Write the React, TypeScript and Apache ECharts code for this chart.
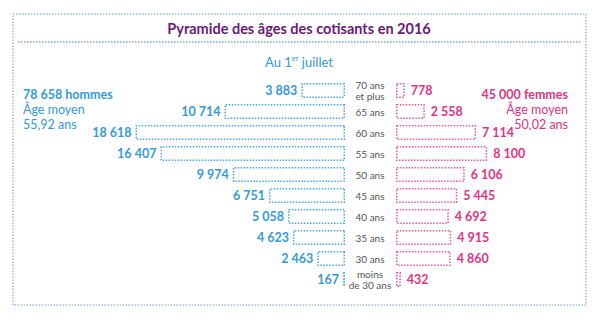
import React, { useEffect, useRef } from "react";
import * as echarts from "echarts";

const ages = ["70 ans\net plus", "65 ans", "60 ans", "55 ans", "50 ans", "45 ans", "40 ans", "35 ans", "30 ans", "moins\nde 30 ans"];
const men = [3883, 10714, 18618, 16407, 9974, 6751, 5058, 4623, 2463, 167];
const women = [778, 2558, 7114, 8100, 6106, 5445, 4692, 4915, 4860, 432];

const title = "Pyramide des âges des cotisants en 2016";
const menTotal = "78 658 hommes";
const menAge = ["Âge moyen", "55,92 ans"];
const womenTotal = "45 000 femmes";
const womenAge = ["Âge moyen", "50,02 ans"];

const BLUE = "#3399dd";
const BLUE_BORDER = "#4aa3e2";
const PINK = "#e2337f";
const PINK_BORDER = "#e8579a";
const PURPLE = "#6b1a7a";
const FONT = "Lato";

const fmt = (v: number) => String(v).replace(/\B(?=(\d{3})+(?!\d))/g, " ");

export default function App() {
  const ref = useRef<HTMLDivElement>(null);
  useEffect(() => {
    if (!ref.current) return;
    const chart = echarts.init(ref.current, null, { renderer: "svg" });
    const block = (x: number, total: string, lines: string[], fill: string, align: string) => ({
      type: "text",
      x,
      y: 87,
      style: {
        text: `{b|${total}}\n{n|${lines[0]}}\n{n|${lines[1]}}`,
        fill,
        align,
        verticalAlign: "top",
        rich: {
          b: { fontFamily: FONT, fontSize: 12.5, fontWeight: "bold", lineHeight: 15, fill, align },
          n: { fontFamily: FONT, fontSize: 12.5, fontWeight: "normal", lineHeight: 15, fill, align },
        },
      },
    });
    chart.setOption({
      animation: false,
      backgroundColor: "#ffffff",
      textStyle: { fontFamily: FONT },
      grid: [
        { left: 120, width: 225, top: 80, height: 210 },
        { left: 396, width: 168.75, top: 80, height: 210 },
      ],
      xAxis: [
        { type: "value", gridIndex: 0, min: 0, max: 20000, inverse: true, show: false },
        { type: "value", gridIndex: 1, min: 0, max: 15000, show: false },
      ],
      yAxis: [
        {
          type: "category",
          gridIndex: 0,
          data: ages,
          inverse: true,
          position: "right",
          axisLine: { show: false, onZero: false },
          axisTick: { show: false },
          splitLine: { show: false },
          axisLabel: {
            margin: 25,
            align: "center",
            color: "#555555",
            fontSize: 10,
            lineHeight: 10.5,
            fontFamily: FONT,
          },
        },
        {
          type: "category",
          gridIndex: 1,
          data: ages,
          inverse: true,
          show: false,
        },
      ],
      series: [
        {
          type: "bar",
          xAxisIndex: 0,
          yAxisIndex: 0,
          data: men,
          barWidth: 15,
          itemStyle: {
            color: "rgba(255,255,255,0)",
            borderColor: BLUE_BORDER,
            borderWidth: 1.5,
            borderType: [1.5, 1.5],
          },
          label: {
            show: true,
            position: "left",
            distance: 4,
            color: BLUE,
            fontWeight: "bold",
            fontSize: 12.5,
            fontFamily: FONT,
            formatter: (p: any) => fmt(p.value),
          },
        },
        {
          type: "bar",
          xAxisIndex: 1,
          yAxisIndex: 1,
          data: women,
          barWidth: 15,
          itemStyle: {
            color: "rgba(255,255,255,0)",
            borderColor: PINK_BORDER,
            borderWidth: 1.5,
            borderType: [1.5, 1.5],
          },
          label: {
            show: true,
            position: "right",
            distance: 6,
            color: PINK,
            fontWeight: "bold",
            fontSize: 12.5,
            fontFamily: FONT,
            formatter: (p: any) => fmt(p.value),
          },
        },
      ],
      graphic: [
        {
          type: "rect",
          shape: { x: 13, y: 14, width: 573, height: 291 },
          style: { fill: "none", stroke: "#9dbde2", lineWidth: 1.5, lineDash: [1.5, 1.5] },
        },
        {
          type: "line",
          shape: { x1: 18, y1: 42, x2: 582, y2: 42 },
          style: { stroke: "#7f9fcc", lineWidth: 1.5, lineDash: [1.5, 1.5] },
        },
        {
          type: "text",
          x: 299,
          y: 28,
          style: {
            text: title,
            fill: PURPLE,
            font: `bold 14.5px ${FONT}`,
            align: "center",
            verticalAlign: "middle",
          },
        },
        {
          type: "text",
          x: 299,
          y: 62,
          style: {
            text: "Au 1{s|er} juillet",
            fill: BLUE,
            font: `13px ${FONT}`,
            align: "center",
            verticalAlign: "middle",
            rich: {
              s: { fontSize: 7.5, fill: BLUE, fontFamily: FONT, verticalAlign: "top", padding: [0, 0, 7, 0] },
            },
          },
        },
        block(23, menTotal, menAge, BLUE, "left"),
        block(568, womenTotal, womenAge, PINK, "right"),
      ],
    });
    return () => chart.dispose();
  }, []);
  return <div ref={ref} style={{ width: 600, height: 323, position: "absolute", left: 0, top: 0 }} />;
}
